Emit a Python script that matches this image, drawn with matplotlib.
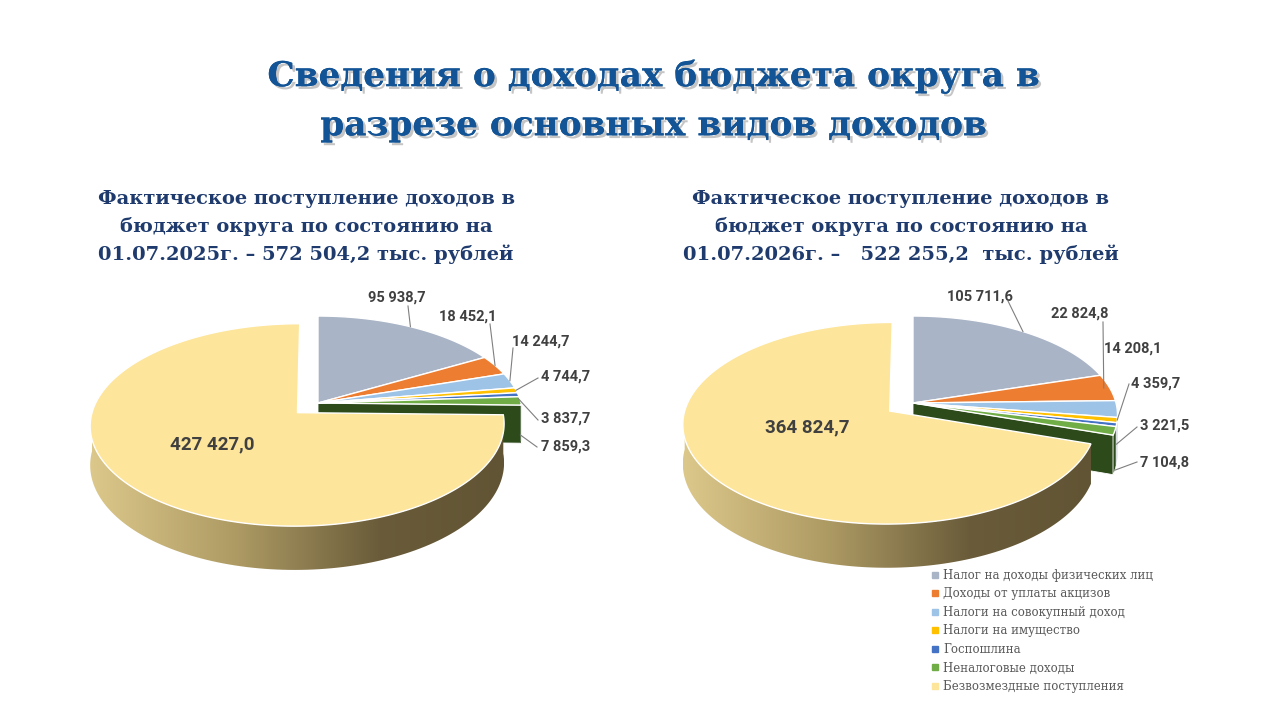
import numpy as np
import matplotlib.pyplot as plt
import matplotlib.patheffects as pe
from matplotlib.patches import Polygon
from matplotlib.colors import LinearSegmentedColormap
from matplotlib.lines import Line2D

# income types (legend order = slice order, clockwise from 12 o'clock)
categories = ['Налог на доходы физических лиц', 'Доходы от уплаты акцизов',
              'Налоги на совокупный доход', 'Налоги на имущество', 'Госпошлина',
              'Неналоговые доходы', 'Безвозмездные поступления']
values_2025 = [95938.7, 18452.1, 14244.7, 4744.7, 3837.7, 7859.3, 427427.0]
values_2026 = [105711.6, 22824.8, 14208.1, 4359.7, 3221.5, 7104.8, 364824.7]

colors = ['#A9B4C6', '#ED7D31', '#9DC3E6', '#FFC000', '#4472C4', '#70AD47', '#FDE59B']
side_colors = ['#5E6B80', '#8E4A1D', '#3E4C5E', '#7F6000', '#1F3864', '#2D4A1B', '#A8965F']

title = 'Сведения о доходах бюджета округа в\nразрезе основных видов доходов'
sub_2025 = 'Фактическое поступление доходов в\nбюджет округа по состоянию на\n01.07.2025г. – 572 504,2 тыс. рублей'
sub_2026 = 'Фактическое поступление доходов в\nбюджет округа по состоянию на\n01.07.2026г. –   522 255,2  тыс. рублей'

RX, RY, P, H = 203, 97.4, 0.12, 38   # pie look (pixels)
lab_font = ['Roboto', 'DejaVu Sans']


def fmt(v):
    return f'{v:,.1f}'.replace(',', ' ').replace('.', ',')


fig = plt.figure(figsize=(12.8, 7.2), dpi=100)
ax = fig.add_axes([0, 0, 1, 1])


def proj(cx, cy, u, v, z=0.0):
    w = 1 + P * v
    return cx + RX * u / w, cy - RY * v / w + H * z / w


side_cmap = LinearSegmentedColormap.from_list(
    'side', [(0, '#DCC88A'), (0.35, '#AE9B64'), (0.7, '#6A5C3A'), (1, '#615434')])


def draw_pie(cx, cy, values, e=0.14):
    fr = np.array(values) / sum(values)
    ends = 90 - 360 * np.cumsum(fr)
    starts = ends + 360 * fr
    mids = (starts + ends) / 2
    off = [(0, 0)] * 6 + [(e * np.cos(np.radians(mids[6])), e * np.sin(np.radians(mids[6])))]
    for grp in [range(6), [6]]:
        # radial wall at the lower edge of the group
        last = grp[-1]
        a1 = np.radians(ends[last])
        if np.cos(a1) > 0.01 and last != 6:
            ou, ov = off[last]
            p = [proj(cx, cy, ou, ov, 0), proj(cx, cy, ou + np.cos(a1), ov + np.sin(a1), 0),
                 proj(cx, cy, ou + np.cos(a1), ov + np.sin(a1), 1), proj(cx, cy, ou, ov, 1)]
            ax.add_patch(Polygon(p, closed=True, fc=side_colors[last], ec='white', lw=0.6))
        # outer walls
        for i in grp:
            lo, hi = max(ends[i], -180), min(starts[i], 0)
            if hi <= lo:
                continue
            th = np.radians(np.linspace(hi, lo, 120))
            ou, ov = off[i]
            xt, yt = proj(cx, cy, ou + np.cos(th), ov + np.sin(th), 0)
            xb, yb = proj(cx, cy, ou + np.cos(th), ov + np.sin(th), 1)
            pts = np.column_stack([np.r_[xt, xb[::-1]], np.r_[yt, yb[::-1]]])
            if i == 6:
                poly = Polygon(pts, closed=True, fc='none', ec='none')
                ax.add_patch(poly)
                grad = np.linspace(0, 1, 256).reshape(1, -1)
                im = ax.imshow(grad, cmap=side_cmap, aspect='auto',
                               extent=(xt.min(), xt.max(), yb.max(), yt.min()), zorder=1)
                im.set_clip_path(poly)
            else:
                ax.add_patch(Polygon(pts, closed=True, fc=side_colors[i], ec='white', lw=0.4, zorder=1))
        # top faces
        for i in grp:
            th = np.radians(np.linspace(starts[i], ends[i], 200))
            ou, ov = off[i]
            xa, ya = proj(cx, cy, ou + np.cos(th), ov + np.sin(th), 0)
            x0, y0 = proj(cx, cy, ou, ov, 0)
            pts = np.column_stack([np.r_[x0, xa], np.r_[y0, ya]])
            ax.add_patch(Polygon(pts, closed=True, fc=colors[i], ec='white', lw=1.0, zorder=1))
    return mids


def leaders(cx, cy, values, mids, layout):
    for i, (tx, ty, ha, lx, ly, r, z) in enumerate(layout):
        th = np.radians(mids[i])
        ax.text(tx, ty, fmt(values[i]), ha=ha, va='center', fontsize=10.5, fontweight='bold',
                color='#404040', family=lab_font, zorder=3)
        if lx is not None:
            x1, y1 = proj(cx, cy, r * np.cos(th), r * np.sin(th), z)
            ax.plot([lx, x1], [ly, y1], color='#7F7F7F', lw=0.8, zorder=3)


# left pie, 2025
mids = draw_pie(318, 403, values_2025)
layout_2025 = [
    (397, 298, 'center', 408, 306, 1.0, 0),
    (468, 317, 'center', 490, 324, 1.0, 0),
    (541, 342, 'center', 513, 348, 1.0, 0),
    (541, 377, 'left', 538, 378, 1.0, 0),
    (541, 419, 'left', 538, 420, 1.0, 0.1),
    (541, 447, 'left', 537, 447, 1.0, 0.9),
]
leaders(318, 403, values_2025, mids, layout_2025)
ax.text(212, 444, fmt(values_2025[6]), ha='center', va='center', fontsize=13.5, fontweight='bold',
        color='#404040', family=lab_font, zorder=3)

# right pie, 2026
mids = draw_pie(913, 403, values_2026)
layout_2026 = [
    (980, 297, 'center', 1008, 301, 1.0, 0),
    (1080, 314, 'center', 1103, 322, 0.97, 0),
    (1133, 349, 'center', None, None, 1.0, 0),
    (1131, 384, 'left', 1129, 384, 1.0, 0),
    (1140, 426, 'left', 1137, 427, 1.0, 0.5),
    (1140, 463, 'left', 1137, 462, 1.0, 1.0),
]
leaders(913, 403, values_2026, mids, layout_2026)
ax.text(807, 427, fmt(values_2026[6]), ha='center', va='center', fontsize=13.5, fontweight='bold',
        color='#404040', family=lab_font, zorder=3)

# titles
ax.text(652, 101, title, ha='center', va='center', fontsize=24.7, fontweight='bold',
        color='#125496', family='DejaVu Serif', linespacing=1.62,
        path_effects=[pe.withSimplePatchShadow(offset=(2, -2), shadow_rgbFace='#808080', alpha=0.45),
                      pe.Normal()])
for x, s in [(306, sub_2025), (901, sub_2026)]:
    ax.text(x, 227, s, ha='center', va='center', fontsize=14, fontweight='bold',
            color='#1F3B6E', family='DejaVu Serif', linespacing=1.55)

handles = [Line2D([], [], marker='s', ls='', color=c, markersize=5) for c in colors]
ax.legend(handles, categories, loc='upper left', bbox_to_anchor=(923 / 1280, 1 - 564 / 720),
          frameon=False, prop={'family': 'DejaVu Serif', 'size': 8.5}, labelcolor='#595959',
          handletextpad=0.1, labelspacing=0.47, handlelength=1.2, borderaxespad=0)

ax.set_xlim(0, 1280)
ax.set_ylim(720, 0)
ax.axis('off')
fig.savefig('out.png', dpi=100)
